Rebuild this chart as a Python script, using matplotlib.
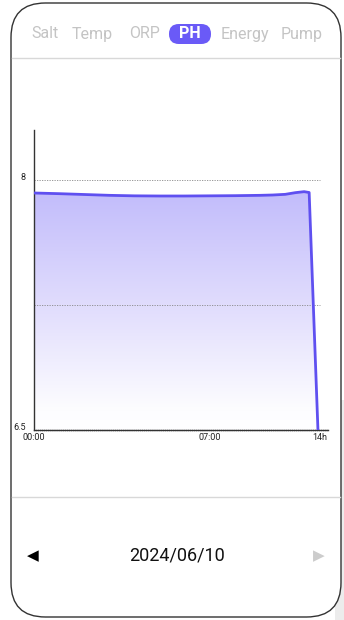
import numpy as np
import matplotlib.pyplot as plt
from matplotlib.patches import FancyBboxPatch
from matplotlib.colors import LinearSegmentedColormap

plt.rcParams['font.family'] = ['Roboto', 'DejaVu Sans']

# data
tabs = ["Salt", "Temp", "ORP", "PH", "Energy", "Pump"]
tab_x = [45, 92, 145, 190, 245, 302]
active_tab = "PH"
hours = [0, 1, 2, 3, 4, 5, 6, 7, 8, 9, 9.5, 10, 10.4, 10.75, 10.95, 11.3]
ph = [7.922, 7.918, 7.913, 7.908, 7.905, 7.904, 7.904, 7.905, 7.906, 7.908,
      7.910, 7.914, 7.924, 7.930, 7.925, 6.5]
y_ticks = [6.5, 8]
y_tick_labels = ["6.5", "8"]
grid_levels = [7.25, 8]
x_ticks = [0, 7, 11.38]
x_tick_labels = ["00:00", "07:00", "14h"]
date_label = "2024/06/10"

W, H = 344, 620
fig = plt.figure(figsize=(W / 100, H / 100), dpi=100)
fig.patch.set_facecolor("white")

def fx(px):
    return px / W

def fy(py):
    return 1 - py / H

# background grey strip at right bottom
fig.patches.append(plt.Rectangle((fx(335), 0), fx(9), fy(400), transform=fig.transFigure,
                                 facecolor="#ececec", edgecolor="none", zorder=0))
# phone frame
frame = FancyBboxPatch((fx(11), fy(617)), fx(330), (614) / H,
                       boxstyle="round,pad=0,rounding_size=0.1",
                       mutation_aspect=W / H,
                       transform=fig.transFigure, facecolor="white",
                       edgecolor="#333333", linewidth=1.0, zorder=1)
fig.patches.append(frame)

# separators
for py in [58, 497]:
    fig.add_artist(plt.Line2D([fx(12), fx(340)], [fy(py), fy(py)], color="#d8d8d8",
                              linewidth=1.0, transform=fig.transFigure, zorder=2))

# tabs
for name, x in zip(tabs, tab_x):
    if name == active_tab:
        pill = FancyBboxPatch((fx(x - 21), fy(44)), fx(42), 20 / H,
                              boxstyle="round,pad=0,rounding_size=0.0285",
                              mutation_aspect=W / H,
                              transform=fig.transFigure, facecolor="#6a5af7",
                              edgecolor="none", zorder=3)
        fig.patches.append(pill)
        fig.text(fx(x), fy(34), name, color="white", fontsize=11.5, fontweight="bold",
                 ha="center", va="center", zorder=4)
    else:
        fig.text(fx(x), fy(34), name, color="#c4c4c4", fontsize=11.5,
                 ha="center", va="center", zorder=4)

# chart
ax = fig.add_axes([fx(34), fy(430), fx(328) - fx(34), fy(130) - fy(430)])
ax.set_zorder(5)
ax.patch.set_alpha(0)
ax.set_xlim(0, 11.7)
ax.set_ylim(6.5, 8.3)

x = np.array(hours)
y = np.array(ph)
poly = ax.fill_between(x, y, 6.5, color="none")
cmap = LinearSegmentedColormap.from_list(
    "g", [(0, "#ffffff"), (0.08, "#fdfdff"), (0.5, "#e2defd"), (1, "#c2bcfb")])
grad = np.linspace(0, 1, 256).reshape(-1, 1)
img = ax.imshow(grad, cmap=cmap, aspect="auto", origin="lower",
                extent=[0, 11.3, 6.5, 7.93], zorder=1)
img.set_clip_path(poly.get_paths()[0], transform=ax.transData)
ax.plot(x, y, color="#5f50f0", linewidth=2, zorder=3, solid_joinstyle="round")

for g in grid_levels:
    ax.plot([0, 11.38], [g, g], color="#888888", linewidth=0.6, linestyle=(0, (1.5, 1.5)), zorder=2)

for s in ["top", "right"]:
    ax.spines[s].set_visible(False)
ax.spines["left"].set_color("#333333")
ax.spines["left"].set_linewidth(1.0)
ax.spines["bottom"].set_color("#333333")
ax.spines["bottom"].set_linewidth(1.0)
ax.spines["bottom"].set_linestyle((0, (1, 0.5)))

ax.set_yticks(y_ticks)
ax.set_yticklabels(y_tick_labels, fontsize=6.5, color="#222222")
ax.set_xticks(x_ticks)
ax.set_xticklabels(x_tick_labels, fontsize=6.5, color="#222222")
ax.tick_params(axis="x", length=0, pad=2)
ax.tick_params(axis="y", length=0, pad=6)
for lab in ax.get_yticklabels():
    lab.set_va("baseline")

# date navigator
fig.text(fx(177), fy(556), date_label, fontsize=13, color="#111111", ha="center", va="center")
fig.text(fx(33), fy(556), "\u25C0", fontsize=11, color="black", ha="center", va="center")
fig.text(fx(319), fy(556), "\u25B6", fontsize=11, color="#cccccc", ha="center", va="center")

fig.savefig("out.png", dpi=100)
